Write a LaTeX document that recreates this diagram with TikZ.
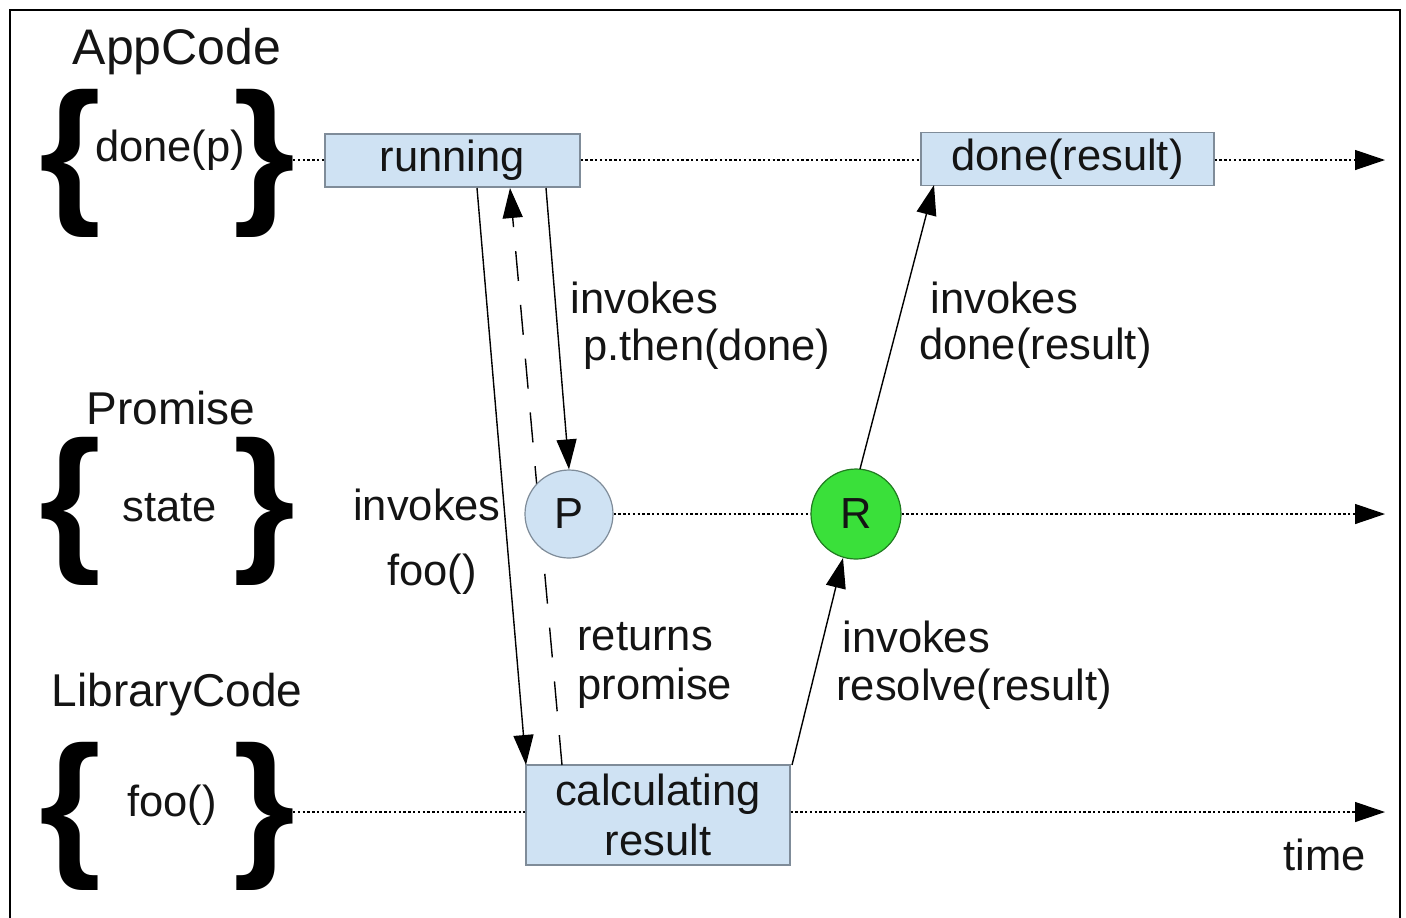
\documentclass[tikz,border=0pt]{standalone}
\usepackage{fontspec}
\setmainfont{Liberation Sans}
\usetikzlibrary{arrows.meta}
\definecolor{boxblue}{HTML}{CFE2F3}
\definecolor{boxedge}{HTML}{7F8C99}
\definecolor{rgreen}{HTML}{3AE03A}
\definecolor{txt}{HTML}{141414}
\tikzset{
  lbl/.style={font=\fontsize{21.75}{24}\selectfont, text=txt, inner sep=0pt},
  hdr/.style={font=\fontsize{23}{26}\selectfont, text=txt, inner sep=0pt},
  brc/.style={font=\fontsize{79.5}{80}\selectfont\bfseries, inner sep=0pt, anchor=base},
  statebox/.style={draw=boxedge, fill=boxblue, line width=0.6pt, inner sep=0pt, font=\fontsize{21.75}{24}\selectfont, text=txt, align=center},
  dotline/.style={line width=0.6pt, dash pattern=on 1.2pt off 1.2pt},
  tip/.style={-{Triangle[length=15pt,width=10pt]}},
  flow/.style={line width=0.7pt, tip},
}
\begin{document}
\begin{tikzpicture}[x=0.5pt,y=-0.5pt]
\useasboundingbox (0,0) rectangle (1406,917);
\fill[white] (0,0) rectangle (1406,917);
\draw[line width=1pt] (10,930) -- (10,10) -- (1400,10) -- (1400,930);

% headers and braces
\node[hdr, font=\fontsize{25}{28}\selectfont] (hApp) at (177,52) {AppCode};
\node[brc] (bA1) at (70,204.5) {\{};
\node[brc] (bA2) at (264,204.5) {\}};
\node[lbl] (tApp) at (170,150) {done(p)};

\node[hdr] (hPro) at (171,408) {Promise};
\node[brc] (bP1) at (70,552) {\{};
\node[brc] (bP2) at (264,552) {\}};
\node[lbl] (tPro) at (170,508) {state};

\node[hdr] (hLib) at (177,695) {LibraryCode};
\node[brc] (bL1) at (70,857) {\{};
\node[brc] (bL2) at (264,857) {\}};
\node[lbl] (tLib) at (172,805) {foo()};

% coordinates for line starts/ends
\coordinate (sA) at (293,160);
\coordinate (eA) at (1385,160);
\coordinate (eP) at (1385,514);
\coordinate (sL) at (293,812);
\coordinate (eL) at (1385,812);

% states
\node[statebox, minimum width=127.5pt, minimum height=26.5pt] (run) at (452.5,160.5) {running};
\node[statebox, minimum width=146.5pt, minimum height=26.5pt] (done) at (1067.5,159) {done(result)};
\node[statebox, minimum width=132pt, minimum height=50pt] (calc) at (658,815) {calculating\\[1pt]result};

% timelines
\draw[dotline] (sA) -- (run.west |- sA);
\draw[dotline] (run.east |- sA) -- (done.west |- sA);
\draw[dotline, tip] (done.east |- sA) -- (eA);
\draw[dotline] (sL) -- (calc.west |- sL);
\draw[dotline, tip] (calc.east |- sL) -- (eL);

% dashed return (behind circle)
\coordinate (dB) at (562,765);
\coordinate (dT) at (510,188);
\draw[line width=0.7pt, tip, dash pattern=on 15pt off 12pt] (dB) -- (dT);

\node[circle, draw=boxedge, fill=boxblue, line width=0.6pt, minimum size=44pt, inner sep=0pt, font=\fontsize{21.75}{24}\selectfont, text=txt] (P) at (569,514) {P};
\node[circle, draw=black!45!rgreen, fill=rgreen, line width=0.6pt, minimum size=45pt, inner sep=0pt, font=\fontsize{21.75}{24}\selectfont, text=txt] (R) at (856,514) {R};

\draw[dotline] (P.east) -- (R.west);
\draw[dotline, tip] (R.east) -- (eP);

% flows
\coordinate (f1s) at (477,188);
\coordinate (f1e) at (526,765);
\draw[flow] (f1s) -- (f1e);
\coordinate (f2s) at (546,188);
\draw[flow] (f2s) -- (P.north);
\coordinate (f3s) at (792,765);
\coordinate (f3e) at (843,558);
\draw[flow] (f3s) -- (f3e);
\coordinate (f4s) at (860,469);
\coordinate (f4e) at (934,185);
\draw[flow] (f4s) -- (f4e);

% labels
\node[lbl] (l1a) at (427,505) {invokes};
\node[lbl] (l1b) at (432,574) {foo()};
\node[lbl, anchor=west] (l2a) at (570,298) {invokes};
\node[lbl, anchor=west] (l2b) at (583,349) {p.then(done)};
\node[lbl, anchor=west] (l3a) at (577,637) {returns};
\node[lbl, anchor=west] (l3b) at (577,688) {promise};
\node[lbl, anchor=west] (l4a) at (842,637) {invokes};
\node[lbl, anchor=west] (l4b) at (836,689) {resolve(result)};
\node[lbl, anchor=west] (l5a) at (930,298) {invokes};
\node[lbl, anchor=west] (l5b) at (919,348) {done(result)};
\node[lbl, anchor=west] (tm) at (1283,855) {time};
\end{tikzpicture}
\end{document}
